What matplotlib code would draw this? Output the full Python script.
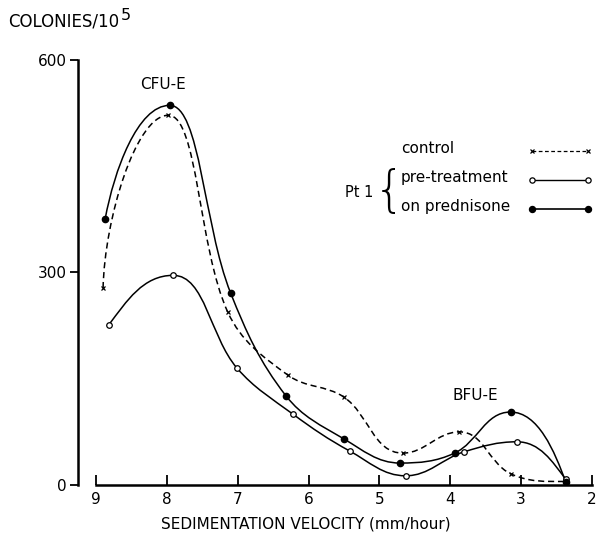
import numpy as np
import matplotlib.pyplot as plt
from matplotlib.path import Path
from matplotlib.patches import PathPatch

# values
control_x = [8.90, 7.98, 7.14, 6.29, 5.50, 4.67, 3.87, 3.15, 2.38]
control_y = [278, 522, 244, 155, 124, 45, 75, 16, 5]

pre_x = [8.82, 7.91, 7.01, 6.22, 5.42, 4.63, 3.80, 3.06, 2.37]
pre_y = [226, 296, 165, 100, 48, 13, 47, 61, 8]

pred_x = [8.87, 7.96, 7.10, 6.32, 5.50, 4.71, 3.94, 3.15, 2.37]
pred_y = [376, 536, 271, 126, 65, 31, 45, 103, 4]

xticks = [9, 8, 7, 6, 5, 4, 3, 2]
yticks = [0, 300, 600]

# rough px per data unit, so the curve is smoothed in screen space
SX, SY = -70.9, 0.708


def unit(v):
    return v / np.linalg.norm(v)


def smooth_path(xs, ys, k=0.37):
    # hand-drawn style curve: bezier handles along the neighbour chord,
    # flat at the peaks and dips
    p = np.column_stack([np.array(xs) * SX, np.array(ys) * SY])
    n = len(p)
    t = np.zeros((n, 2))
    for i in range(1, n - 1):
        d = p[i + 1] - p[i - 1]
        if (ys[i] - ys[i - 1]) * (ys[i + 1] - ys[i]) < 0:
            d = np.array([d[0], 0.0])
        t[i] = unit(d)
    t[0] = unit(1.5 * unit(p[1] - p[0]) - 0.5 * t[1])
    t[-1] = unit(1.5 * unit(p[-1] - p[-2]) - 0.5 * t[-2])
    verts = [p[0]]
    codes = [Path.MOVETO]
    for i in range(n - 1):
        seg = p[i + 1] - p[i]
        L = np.linalg.norm(seg)
        cap = 0.5 * abs(seg[0])
        h = []
        for tt in (t[i], t[i + 1]):
            ln = k * L
            if abs(tt[0]) * ln > cap:
                ln = cap / abs(tt[0])
            h.append(tt * ln)
        verts += [p[i] + h[0], p[i + 1] - h[1], p[i + 1]]
        codes += [Path.CURVE4] * 3
    verts = np.array(verts) / [SX, SY]
    return Path(verts, codes)


plt.rcParams['font.family'] = 'DejaVu Sans'
fig = plt.figure(figsize=(5.96, 5.4), dpi=100)
ax = fig.add_axes([96 / 596, 55 / 540, 496 / 596, 425 / 540])

lw = 1.1
ax.add_patch(PathPatch(smooth_path(control_x, control_y), fill=False,
                       lw=lw, ls=(0, (4, 2.5)), color='black'))
ax.add_patch(PathPatch(smooth_path(pre_x, pre_y), fill=False, lw=lw, color='black'))
ax.add_patch(PathPatch(smooth_path(pred_x, pred_y), fill=False, lw=lw, color='black'))

ax.plot(control_x, control_y, 'x', color='black', ms=3.5, mew=0.9)
ax.plot(pre_x, pre_y, 'o', mfc='white', mec='black', ms=4, mew=0.9)
ax.plot(pred_x, pred_y, 'o', color='black', ms=4.5)

ax.set_xlim(9, 2)
ax.set_ylim(0, 600)

for s in ['top', 'right']:
    ax.spines[s].set_visible(False)
ax.spines['left'].set_position(('outward', 13))
ax.spines['left'].set_linewidth(1.8)
ax.spines['bottom'].set_linewidth(1.8)

ax.set_xticks(xticks)
ax.set_xticklabels([str(t) for t in xticks])
ax.set_yticks(yticks)
ax.set_yticklabels([str(t) for t in yticks])
ax.tick_params(axis='x', direction='in', length=7, width=1.3, labelsize=11, pad=5)
ax.tick_params(axis='y', direction='out', length=6, width=1.3, labelsize=11, pad=2)
ax.set_xlabel('SEDIMENTATION VELOCITY (mm/hour)', fontsize=11)
ax.xaxis.set_label_coords(0.423, -0.075)

fig.text(8 / 596, 1 - 22 / 540, 'COLONIES/10', fontsize=12, va='center', ha='left')
fig.text(121 / 596, 1 - 15 / 540, '5', fontsize=11.5, va='center', ha='left')

ax.text(8.05, 565, 'CFU-E', fontsize=11, ha='center', va='center')
ax.text(3.65, 127, 'BFU-E', fontsize=11, ha='center', va='center')


# legend drawn by hand
def px2data(px, py):
    return ax.transData.inverted().transform(fig.transFigure.transform((px / 596, 1 - py / 540)))


for label, y, fmt in [('control', 149, 'x'), ('pre-treatment', 178, 'o'), ('on prednisone', 207, 'f')]:
    tx, ty = px2data(401, y)
    ax.text(tx, ty, label, fontsize=11, ha='left', va='center')
    x0, yy = px2data(532, y + 2)
    x1, _ = px2data(588, y + 2)
    if fmt == 'x':
        ax.plot([x0, x1], [yy, yy], color='black', lw=0.9, ls=(0, (3, 2)))
        ax.plot([x0, x1], [yy, yy], 'x', color='black', ms=3.2, mew=0.9)
    elif fmt == 'o':
        ax.plot([x0, x1], [yy, yy], color='black', lw=1.0)
        ax.plot([x0, x1], [yy, yy], 'o', mfc='white', mec='black', ms=3.8, mew=0.9)
    else:
        ax.plot([x0, x1], [yy, yy], color='black', lw=1.2)
        ax.plot([x0, x1], [yy, yy], 'o', color='black', ms=4.3)

px, py = px2data(345, 192)
ax.text(px, py, 'Pt 1', fontsize=10.5, ha='left', va='center')
bx, by = px2data(389, 192)
ax.text(bx, by, '{', fontsize=35, ha='center', va='center', fontweight='ultralight')

fig.savefig('out.png', dpi=100)
